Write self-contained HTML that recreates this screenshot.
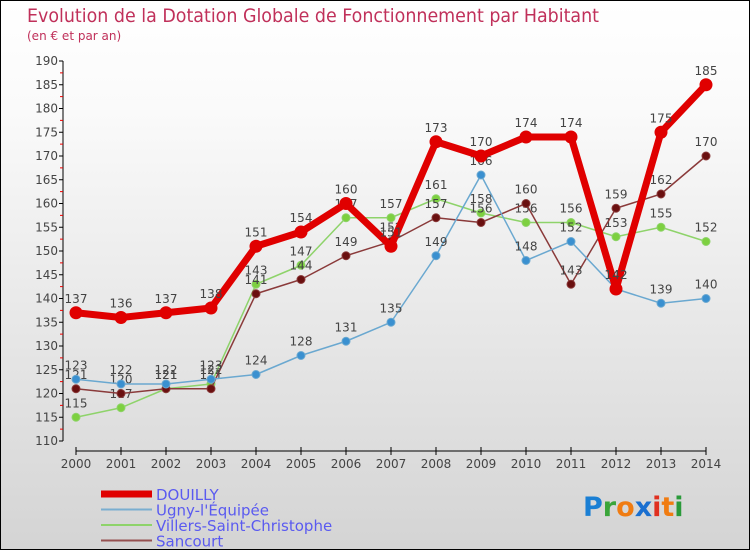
<!DOCTYPE html>
<html><head><meta charset="utf-8"><style>
body{margin:0;}
#c{width:750px;height:550px;position:relative;box-sizing:border-box;border:1px solid #000;background:linear-gradient(#fff,#fafafa 20%,#d4d4d4);font-family:"DejaVu Sans","Liberation Sans",sans-serif;overflow:hidden}
svg text{font-family:"DejaVu Sans","Liberation Sans",sans-serif}
</style></head><body>
<div id="c">
<svg id="s" width="750" height="550">
<text x="26" y="21" font-size="19" fill="#c0305a" textLength="572" lengthAdjust="spacingAndGlyphs">Evolution de la Dotation Globale de Fonctionnement par Habitant</text>
<text x="26" y="39" font-size="12" fill="#c0305a">(en € et par an)</text>
<g id="axes"></g><g id="series"></g><g id="legend"></g>
<g font-size="27" font-weight="bold">
<text x="582" y="515"><tspan fill="#1a7fd4">P</tspan><tspan fill="#3aa53a">r</tspan><tspan fill="#f07c12">o</tspan><tspan fill="#1a6fd0">x</tspan><tspan fill="#e03020">i</tspan><tspan fill="#f07c12">t</tspan><tspan fill="#2a9a3a">i</tspan></text>
</g>
</svg></div>
<script>
const years=[2000,2001,2002,2003,2004,2005,2006,2007,2008,2009,2010,2011,2012,2013,2014];
const douilly=[137,136,137,138,151,154,160,151,173,170,174,174,142,175,185];
const ugny=[123,122,122,123,124,128,131,135,149,166,148,152,142,139,140];
const villers=[115,117,121,122,143,147,157,157,161,158,156,156,153,155,152];
const sancourt=[121,120,121,121,141,144,149,152,157,156,160,143,159,162,170];
const yTicks=[110,115,120,125,130,135,140,145,150,155,160,165,170,175,180,185,190];
const NS='http://www.w3.org/2000/svg';
const X=i=>75+i*45, Y=v=>60+(190-v)*4.75;
function mk(t,a,p){const e=document.createElementNS(NS,t);for(const k in a)e.setAttribute(k,a[k]);p.appendChild(e);return e;}
const ax=document.getElementById('axes');
let e=mk('line',{x1:62,y1:Y(190),x2:62,y2:Y(110),stroke:'#000'},ax);


yTicks.forEach(v=>{
 mk('line',{x1:58,y1:Y(v),x2:62,y2:Y(v),stroke:'#000'},ax);
 if(v<190) mk('line',{x1:59,y1:Y(v+2.5),x2:62,y2:Y(v+2.5),stroke:'#e00'},ax);
 const t=mk('text',{x:57,y:Y(v)+4,'font-size':12,fill:'#444','text-anchor':'end'},ax);t.textContent=v;
 
 
});
e=mk('line',{x1:X(0),y1:450,x2:X(14),y2:450,stroke:'#000'},ax);


years.forEach((y,i)=>{
 mk('line',{x1:X(i),y1:446,x2:X(i),y2:454,stroke:'#000'},ax);
 const t=mk('text',{x:X(i),y:467,'font-size':12,fill:'#444','text-anchor':'middle'},ax);t.textContent=y;
 
 
});
const sg=document.getElementById('series');
function series(data,color,w,r,ptFill,name){
 const g=mk('g',{},sg);
 
 
 mk('polyline',{points:data.map((v,i)=>X(i)+','+Y(v)).join(' '),fill:'none',stroke:color,'stroke-width':w,'stroke-linejoin':'round'},g);
 data.forEach((v,i)=>{
  const c=mk('circle',{cx:X(i),cy:Y(v),r:r,fill:ptFill,stroke:color,'stroke-width':1},g);
  
  
  const t=mk('text',{x:X(i),y:Y(v)-10,'font-size':12,fill:'#444','text-anchor':'middle'},g);t.textContent=v;
  
  
 });
}
series(villers,'#8ed36a',1.5,4,'#7dd040','villers');
series(sancourt,'#8a3a3a',1.5,4,'#6a1010','sancourt');
series(ugny,'#6aa8d0',1.5,4,'#3a90d0','ugny');
series(douilly,'#e00000',7,6,'#e00000','douilly');
const lg=document.getElementById('legend');
[['DOUILLY','#e00000',7],['Ugny-l\'Équipée','#7aaed0',2],['Villers-Saint-Christophe','#8ed36a',2],['Sancourt','#955050',2]].forEach((d,i)=>{
 const y=493+i*15.5;
 const g=mk('g',{},lg);
 
 
 mk('line',{x1:100,y1:y,x2:151,y2:y,stroke:d[1],'stroke-width':d[2]},g);
 const t=mk('text',{x:155,y:y+6,'font-size':15,fill:'#5a5af0'},g);t.textContent=d[0];
});
</script>
</body></html>
